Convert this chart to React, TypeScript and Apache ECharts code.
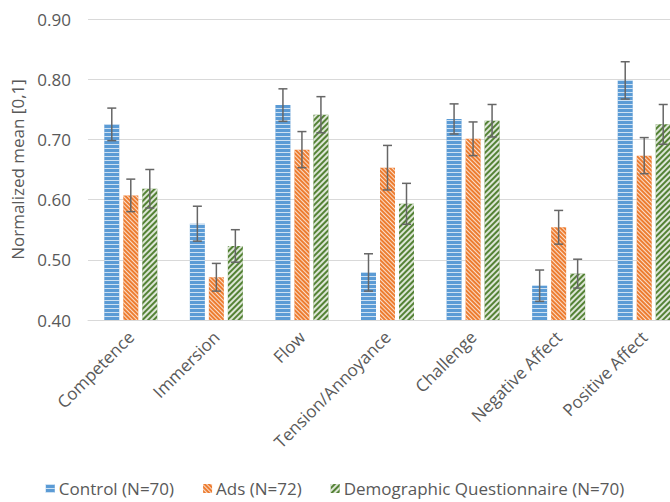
import React, { useEffect, useRef } from "react";
import * as echarts from "echarts";

const categories = [
  "Competence",
  "Immersion",
  "Flow",
  "Tension/Annoyance",
  "Challenge",
  "Negative Affect",
  "Positive Affect",
];
const seriesNames = ["Control (N=70)", "Ads (N=72)", "Demographic Questionnaire (N=70)"];
const controlMeans = [0.725, 0.56, 0.757, 0.479, 0.734, 0.457, 0.798];
const adsMeans = [0.607, 0.471, 0.683, 0.653, 0.701, 0.554, 0.673];
const demoMeans = [0.618, 0.523, 0.741, 0.593, 0.731, 0.477, 0.725];
const controlErr = [0.027, 0.029, 0.027, 0.031, 0.025, 0.026, 0.031];
const adsErr = [0.027, 0.023, 0.03, 0.037, 0.028, 0.028, 0.03];
const demoErr = [0.032, 0.027, 0.03, 0.034, 0.027, 0.024, 0.033];
const yTicks = { min: 0.4, max: 0.9, interval: 0.1 };

const FONT = "Open Sans";
const TXT = "#595959";

export default function App() {
  const ref = useRef<HTMLDivElement>(null);
  useEffect(() => {
    if (!ref.current) return;
    const chart = echarts.init(ref.current, undefined, { renderer: "svg" });
    const means = [controlMeans, adsMeans, demoMeans];
    const errs = [controlErr, adsErr, demoErr];
    const colors = ["#5B9BD5", "#ED7D31", "#548235"];
    const decals: any[] = [
      {
        symbol: "rect",
        symbolSize: 1,
        color: "rgba(255,255,255,0.7)",
        dashArrayX: [1, 0],
        dashArrayY: [1, 3],
        rotation: 0,
      },
      {
        symbol: "rect",
        symbolSize: 1,
        color: "rgba(255,255,255,0.75)",
        dashArrayX: [1, 0],
        dashArrayY: [1, 2],
        rotation: Math.PI / 4,
      },
      {
        symbol: "rect",
        symbolSize: 1,
        color: "rgba(255,255,255,0.8)",
        dashArrayX: [1, 0],
        dashArrayY: [1.5, 1.5],
        rotation: -Math.PI / 4,
      },
    ];
    const barWidth = 15;
    const gapPx = 4;
    const offsets = [-(barWidth + gapPx), 0, barWidth + gapPx];

    const barSeries = seriesNames.map((name, i) => ({
      name,
      type: "bar",
      barWidth,
      barGap: (gapPx / barWidth) * 100 + "%",
      data: means[i],
      itemStyle: { color: colors[i], decal: decals[i] },
      z: 2,
    }));

    const errSeries = seriesNames.map((name, i) => ({
      name: name + " err",
      type: "custom",
      z: 5,
      silent: true,
      data: means[i].map((m, k) => [k, m - errs[i][k], m + errs[i][k]]),
      encode: { x: 0, y: [1, 2] },
      renderItem: (params: any, api: any) => {
        const ci = api.value(0);
        const lo = api.coord([ci, api.value(1)]);
        const hi = api.coord([ci, api.value(2)]);
        const x = lo[0] + offsets[i];
        const cap = 4.5;
        const st = { stroke: "#666666", lineWidth: 1.5 };
        return {
          type: "group",
          children: [
            { type: "line", shape: { x1: x, y1: lo[1], x2: x, y2: hi[1] }, style: st },
            { type: "line", shape: { x1: x - cap, y1: hi[1], x2: x + cap, y2: hi[1] }, style: st },
            { type: "line", shape: { x1: x - cap, y1: lo[1], x2: x + cap, y2: lo[1] }, style: st },
          ],
        };
      },
    }));

    chart.setOption({
      animation: false,
      textStyle: { fontFamily: FONT },
      legend: {
        data: seriesNames,
        left: "center",
        top: 475,
        itemWidth: 9,
        itemHeight: 9,
        itemGap: 29,
        icon: "rect",
        textStyle: { color: TXT, fontSize: 17, fontFamily: FONT, padding: [0, 0, 0, -1] },
      },
      grid: {
        left: 88,
        top: 19,
        width: 599,
        height: 301,
        containLabel: false,
        outerBoundsMode: "none",
      },
      xAxis: {
        type: "category",
        data: categories,
        axisLine: { lineStyle: { color: "#d9d9d9" } },
        axisTick: { show: false },
        axisLabel: {
          rotate: 45,
          interval: 0,
          margin: 14,
          color: TXT,
          fontSize: 17,
          fontFamily: FONT,
        },
      },
      yAxis: {
        type: "value",
        min: yTicks.min,
        max: yTicks.max,
        interval: yTicks.interval,
        name: "Normalized mean [0,1]",
        nameLocation: "middle",
        nameGap: 62,
        nameTextStyle: { color: TXT, fontSize: 17, fontFamily: FONT },
        axisLine: { show: false },
        axisTick: { show: false },
        splitLine: { lineStyle: { color: "#d9d9d9" } },
        axisLabel: {
          margin: 17,
          color: TXT,
          fontSize: 17,
          fontFamily: FONT,
          formatter: (v: number) => v.toFixed(2),
        },
      },
      series: [...barSeries, ...errSeries],
    });
    return () => chart.dispose();
  }, []);
  return (
    <div
      ref={ref}
      style={{ position: "absolute", left: 0, top: 0, width: 670, height: 502, background: "#fff" }}
    />
  );
}
